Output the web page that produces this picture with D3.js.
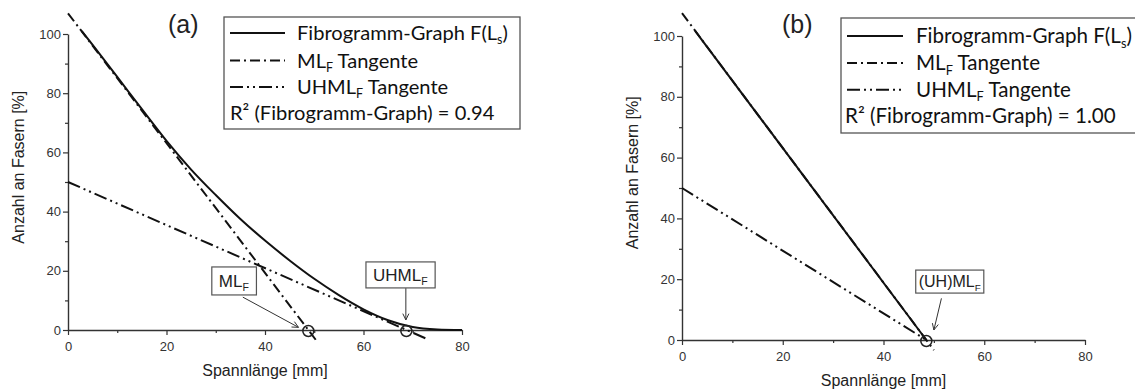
<!DOCTYPE html>
<html><head><meta charset="utf-8">
<script src="https://cdn.jsdelivr.net/npm/d3@7"></script>
<style>body{margin:0;background:#fff} svg{display:block}</style>
</head><body>
<svg id="chart" width="1135" height="389"></svg>
<script>
// ---------- data ----------
const xTickValues = [0, 20, 40, 60, 80];
const xMinorTicks = [10, 30, 50, 70];
const yTickValues = [0, 20, 40, 60, 80, 100];
const yMinorTicks = [10, 30, 50, 70, 90];

// Panel (a)
const fibroA_L = [2.8, 5, 10, 15, 20, 25, 30, 35, 40, 45, 50, 55, 60, 65, 70, 75, 80];
const fibroA_F = [101, 96.3, 85.5, 74.6, 63.9, 54.2, 45.6, 37.5, 30.2, 23.5, 17.3, 11.8, 7.0, 3.3, 1.0, 0.2, 0];
const mlTangA_L = [0, 50.3];
const mlTangA_F = [107, -3.3];
const uhmlTangA_L = [0, 73];
const uhmlTangA_F = [50, -3.1];
const markA_L = [48.8, 68.7];
const r2A = "0.94";

// Panel (b)
const fibroB_L = [2.6, 48.5];
const fibroB_F = [101.7, 0];
const mlTangB_L = [0, 50];
const mlTangB_F = [107.5, -3.3];
const uhmlTangB_L = [0, 48.5];
const uhmlTangB_F = [50, 0];
const markB_L = [48.5];
const r2B = "1.00";

// ---------- drawing ----------
const svg = d3.select('#chart');
const AX = '"Liberation Sans", Arial, sans-serif';
const LEG = 'Lato, "Open Sans", sans-serif';
const zip = (a, b) => a.map((v, i) => [v, b[i]]);

function rich(sel, parts, fs) {
  let prevSub = false;
  parts.forEach(p => {
    const t = sel.append('tspan').text(p.t);
    if (p.sub) { t.attr('font-size', fs * 0.62).attr('dy', fs * 0.22); prevSub = true; }
    else { if (prevSub) t.attr('dy', -fs * 0.22); prevSub = false; }
  });
}

function drawPanel(p) {
  const x = d3.scaleLinear().domain([0, 80]).range(p.xRange);
  const y = d3.scaleLinear().domain([0, 100]).range(p.yRange);
  const g = svg.append('g');

  const styleAxis = s => {
    s.selectAll('path.domain').attr('stroke', '#333').attr('stroke-width', 1.4);
    s.selectAll('.tick line').attr('stroke', '#333').attr('stroke-width', 1.2);
    s.selectAll('.tick text').attr('fill', '#333').style('font', `13px ${AX}`);
  };
  g.append('g').attr('transform', `translate(0,${y(0)})`)
    .call(d3.axisBottom(x).tickValues(xMinorTicks).tickSize(3).tickSizeOuter(0).tickFormat(''))
    .call(s => s.select('path.domain').remove()).call(styleAxis);
  g.append('g').attr('transform', `translate(${x(0)},0)`)
    .call(d3.axisLeft(y).tickValues(yMinorTicks).tickSize(3).tickSizeOuter(0).tickFormat(''))
    .call(s => s.select('path.domain').remove()).call(styleAxis);
  g.append('g').attr('transform', `translate(0,${y(0)})`)
    .call(d3.axisBottom(x).tickValues(xTickValues).tickSize(5).tickPadding(7).tickSizeOuter(0).tickFormat(d3.format('d')))
    .call(styleAxis);
  g.append('g').attr('transform', `translate(${x(0)},0)`)
    .call(d3.axisLeft(y).tickValues(yTickValues).tickSize(5).tickPadding(2).tickSizeOuter(0).tickFormat(d3.format('d')))
    .call(styleAxis);

  g.append('text').attr('x', x(40)).attr('y', y(0) + 46).attr('text-anchor', 'middle')
    .attr('fill', '#222').style('font', `16px ${AX}`).text('Spannlänge [mm]');
  g.append('text').attr('transform', `translate(${x(0) - 44},${y(55)}) rotate(-90)`)
    .attr('text-anchor', 'middle').attr('fill', '#222').style('font', `16px ${AX}`).text('Anzahl an Fasern [%]');

  g.append('text').attr('x', x(0) + 100).attr('y', 33).attr('fill', '#222')
    .style('font', `25px ${AX}`).text(p.tag);

  const line = d3.line().x(d => x(d[0])).y(d => y(d[1]));
  const lineC = d3.line().x(d => x(d[0])).y(d => y(d[1])).curve(d3.curveMonotoneX);
  const mlDash = '10,4,2,4', uhDash = '13,4,2,4,2,4';
  g.append('path').datum(zip(p.uhmlL, p.uhmlF)).attr('d', line)
    .attr('fill', 'none').attr('stroke', '#111').attr('stroke-width', 2).attr('stroke-dasharray', uhDash);
  g.append('path').datum(zip(p.mlL, p.mlF)).attr('d', line)
    .attr('fill', 'none').attr('stroke', '#111').attr('stroke-width', 2).attr('stroke-dasharray', mlDash);
  g.append('path').datum(zip(p.fibL, p.fibF)).attr('d', p.fibL.length > 2 ? lineC : line)
    .attr('fill', 'none').attr('stroke', '#111').attr('stroke-width', 2);

  g.selectAll('circle.mk').data(p.marks).join('circle').attr('class', 'mk')
    .attr('cx', d => x(d)).attr('cy', y(0) + 1).attr('r', 5.5)
    .attr('fill', 'none').attr('stroke', '#222').attr('stroke-width', 1.5);

  p.ann.forEach(a => {
    const ag = g.append('g');
    const t = ag.append('text').attr('fill', '#222').style('font', `${a.fs}px ${AX}`);
    rich(t, [{ t: a.label }, { t: 'F', sub: true }], a.fs);
    const bx = x(a.boxL), by = y(a.boxTop);
    t.attr('x', bx + a.padX).attr('y', by + a.h / 2 + a.fs * 0.36);
    const bb = t.node().getBBox();
    ag.insert('rect', 'text').attr('x', bx).attr('y', by)
      .attr('width', bb.width + 2 * a.padX).attr('height', a.h)
      .attr('fill', '#fff').attr('stroke', '#555').attr('stroke-width', 1.2);
    const x1 = x(a.from[0]), y1 = y(a.from[1]), x2 = x(a.to[0]), y2 = y(a.to[1]);
    ag.append('line').attr('x1', x1).attr('y1', y1).attr('x2', x2).attr('y2', y2)
      .attr('stroke', '#333').attr('stroke-width', 1);
    const ang = Math.atan2(y2 - y1, x2 - x1), hl = 7, hw = 0.45;
    ag.append('path')
      .attr('d', `M${x2 - hl * Math.cos(ang - hw)},${y2 - hl * Math.sin(ang - hw)}L${x2},${y2}L${x2 - hl * Math.cos(ang + hw)},${y2 - hl * Math.sin(ang + hw)}`)
      .attr('fill', 'none').attr('stroke', '#333').attr('stroke-width', 1);
  });

  const L = p.leg;
  const rows = [
    [{ t: 'Fibrogramm-Graph F(L' }, { t: 's', sub: true }, { t: ')' }],
    [{ t: 'ML' }, { t: 'F', sub: true }, { t: ' Tangente' }],
    [{ t: 'UHML' }, { t: 'F', sub: true }, { t: ' Tangente' }],
  ];
  const probe = g.append('text').style('font', `20px ${LEG}`);
  rich(probe, rows[0], 20);
  const fs = 20 * L.target / probe.node().getBBox().width;
  probe.remove();

  const lg = g.append('g');
  lg.append('rect').attr('x', L.x).attr('y', L.y).attr('width', L.w).attr('height', L.h)
    .attr('fill', '#fff').attr('stroke', '#555').attr('stroke-width', 1.3);
  const dashes = [null, mlDash, uhDash];
  rows.forEach((r, i) => {
    const by = L.base[i];
    lg.append('line').attr('x1', L.sx0).attr('x2', L.sx1).attr('y1', by - 7).attr('y2', by - 7)
      .attr('stroke', '#111').attr('stroke-width', 2).attr('stroke-dasharray', dashes[i]);
    const t = lg.append('text').attr('x', L.tx).attr('y', by).attr('fill', '#111')
      .style('font-family', LEG).attr('font-size', fs);
    rich(t, r, fs);
  });
  lg.append('text').attr('x', L.rx).attr('y', L.base[3]).attr('fill', '#111')
    .style('font-family', LEG).attr('font-size', fs)
    .text(`R² (Fibrogramm-Graph) = ${p.r2}`);
}

drawPanel({
  tag: '(a)', xRange: [68, 462], yRange: [330, 34],
  fibL: fibroA_L, fibF: fibroA_F, mlL: mlTangA_L, mlF: mlTangA_F,
  uhmlL: uhmlTangA_L, uhmlF: uhmlTangA_F, marks: markA_L, r2: r2A,
  ann: [
    { label: 'ML', boxL: 29.2, boxTop: 21.3, h: 28, padX: 7, fs: 17, from: [35.5, 11.1], to: [46.8, 0.9] },
    { label: 'UHML', boxL: 60.5, boxTop: 23.0, h: 26, padX: 7, fs: 17, from: [68.6, 14.1], to: [68.6, 3.4] },
  ],
  leg: { x: 224, y: 17, w: 296, h: 112, base: [40, 67.5, 94, 120], sx0: 230, sx1: 285, tx: 297, rx: 230, target: 211 }
});

drawPanel({
  tag: '(b)', xRange: [682, 1085], yRange: [340, 36],
  fibL: fibroB_L, fibF: fibroB_F, mlL: mlTangB_L, mlF: mlTangB_F,
  uhmlL: uhmlTangB_L, uhmlF: uhmlTangB_F, marks: markB_L, r2: r2B,
  ann: [
    { label: '(UH)ML', boxL: 46.4, boxTop: 23.0, h: 23, padX: 3, fs: 16, from: [51.5, 13.7], to: [50.0, 3.3] },
  ],
  leg: { x: 841, y: 18, w: 310, h: 115, base: [43, 70, 96.7, 123], sx0: 847, sx1: 903, tx: 916, rx: 845, target: 216 }
});
</script>
</body></html>
